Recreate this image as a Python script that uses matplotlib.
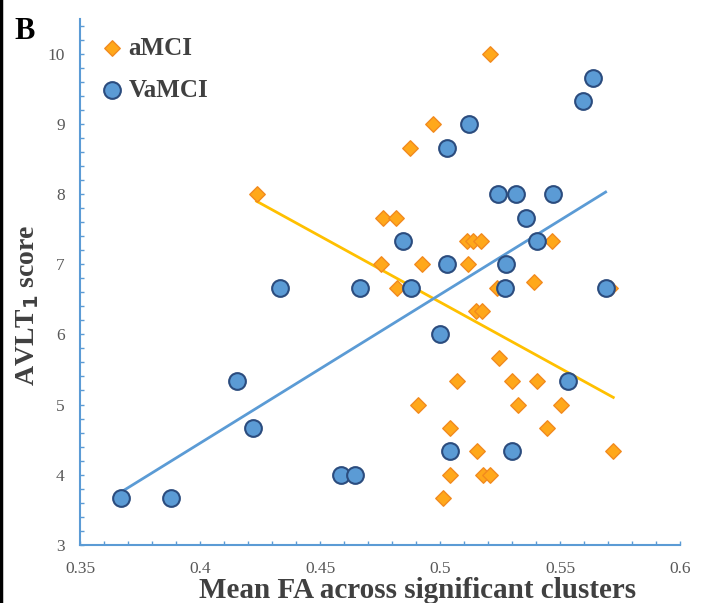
import numpy as np
import matplotlib
matplotlib.use("Agg")
import matplotlib.pyplot as plt
from matplotlib.lines import Line2D
from matplotlib.ticker import MultipleLocator

plt.rcParams["font.family"] = ["Liberation Serif", "DejaVu Serif"]

# aMCI (diamonds)
amci_fa = [0.4236, 0.5208, 0.4969, 0.4875, 0.4764, 0.4815, 0.4754, 0.4924,
           0.4819, 0.5111, 0.5139, 0.5169, 0.5465, 0.5118, 0.5236, 0.5392,
           0.5708, 0.5150, 0.5175, 0.5247, 0.5069, 0.5299, 0.5405, 0.4910,
           0.5324, 0.5503, 0.5042, 0.5447, 0.5153, 0.5722, 0.5042, 0.5178,
           0.5208, 0.5014]
amci_avlt = [8.0, 10.0, 9.0, 8.67, 7.67, 7.67, 7.0, 7.0,
             6.67, 7.33, 7.33, 7.33, 7.33, 7.0, 6.67, 6.75,
             6.67, 6.33, 6.33, 5.67, 5.33, 5.33, 5.33, 5.0,
             5.0, 5.0, 4.67, 4.67, 4.33, 4.33, 4.0, 4.0,
             4.0, 3.67]

# VaMCI (circles)
vamci_fa = [0.3670, 0.3878, 0.4153, 0.4221, 0.4333, 0.4586, 0.4646, 0.4667,
            0.4847, 0.4880, 0.5000, 0.5028, 0.5028, 0.5042, 0.5121, 0.5243,
            0.5317, 0.5470, 0.5358, 0.5405, 0.5274, 0.5271, 0.5299, 0.5535,
            0.5597, 0.5636, 0.5690]
vamci_avlt = [3.67, 3.67, 5.33, 4.67, 6.67, 4.0, 4.0, 6.67,
              7.33, 6.67, 6.0, 8.67, 7.0, 4.33, 9.0, 8.0,
              8.0, 8.0, 7.67, 7.33, 7.0, 6.67, 4.33, 5.33,
              9.33, 9.67, 6.67]

fig = plt.figure(figsize=(7.06, 6.03), dpi=100)
ax = fig.add_axes([0.1133, 0.097, 0.8499, 0.8707])

def trend(x, y, color):
    x = np.asarray(x)
    k, b = np.polyfit(x, y, 1)
    xs = np.array([x.min(), x.max()])
    ax.plot(xs, k * xs + b, color=color, lw=2, zorder=2)

trend(amci_fa, amci_avlt, "#FFC000")
trend(vamci_fa, vamci_avlt, "#5B9BD5")

ax.scatter(amci_fa, amci_avlt, marker="D", s=62, facecolor="#FFA81A",
           edgecolor="#F28A1E", linewidth=1, zorder=3, label="aMCI")
ax.scatter(vamci_fa, vamci_avlt, marker="o", s=145, facecolor="#5B9BD5",
           edgecolor="#2B4C7E", linewidth=1.5, zorder=4, label="VaMCI")

ax.set_xlim(0.35, 0.6)
ax.set_ylim(3, 10.5)
ax.xaxis.set_minor_locator(MultipleLocator(0.01))
ax.yaxis.set_minor_locator(MultipleLocator(0.2))
ax.set_yticks(range(3, 11))
ax.set_xticks([0.35, 0.4, 0.45, 0.5, 0.55, 0.6])
ax.set_xticklabels(["0.35", "0.4", "0.45", "0.5", "0.55", "0.6"])

for s in ["top", "right"]:
    ax.spines[s].set_visible(False)
for s in ["left", "bottom"]:
    ax.spines[s].set_color("#5B9BD5")
    ax.spines[s].set_linewidth(1.5)

ax.tick_params(which="both", direction="in", length=3, width=1,
               color="#5B9BD5", labelcolor="#595959", labelsize=12.5)
ax.tick_params(axis="x", pad=12)
ax.tick_params(axis="y", pad=11)

ax.set_xlabel("Mean FA across significant clusters", fontsize=21,
              fontweight="bold", color="#404040", va="center")
ax.xaxis.set_label_coords(0.563, -0.087)
ax.set_ylabel("AVLT$_\\mathbf{1}$ score", fontsize=20, fontweight="bold",
              color="#404040", va="center")
ax.yaxis.set_label_coords(-0.088, 0.456)

leg = ax.legend(loc="upper left", bbox_to_anchor=(0.033, 0.967), frameon=False,
                handlelength=1, handletextpad=0.15, borderpad=0,
                borderaxespad=0, labelspacing=0.75,
                prop={"size": 18, "weight": "bold"})
for t in leg.get_texts():
    t.set_color("#404040")

fig.text(0.02, 0.972, "B", fontsize=22, fontweight="bold", va="top")
fig.add_artist(Line2D([0.002, 0.002], [0, 1], color="black", lw=2.5))

fig.savefig("out.png", dpi=100)
